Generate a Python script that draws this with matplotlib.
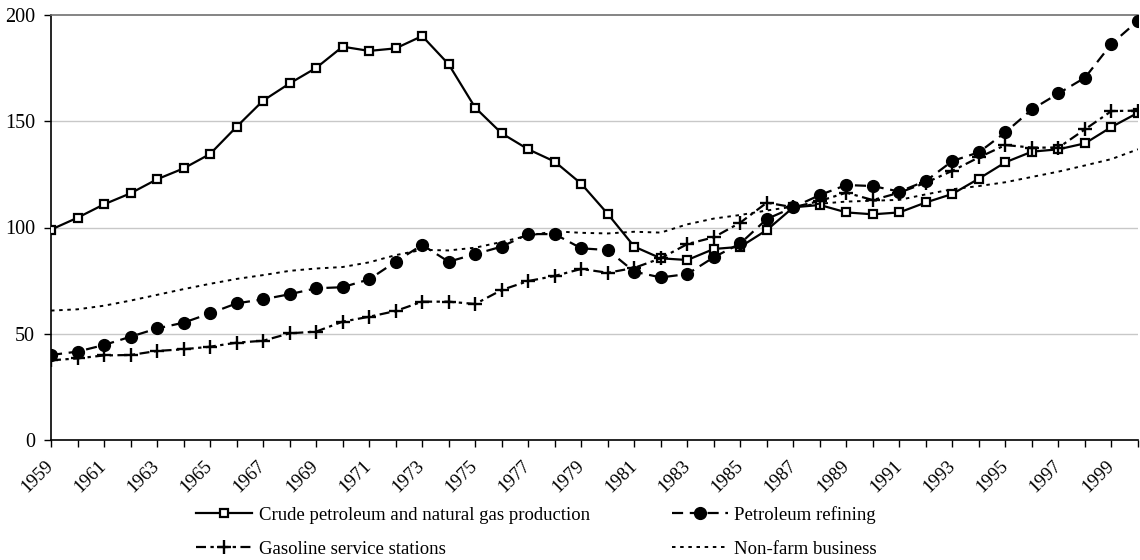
import matplotlib
matplotlib.use("Agg")
import matplotlib.pyplot as plt
from matplotlib.transforms import ScaledTranslation

years = list(range(1959, 2001))

crude_petroleum = [
    99.0, 104.6, 110.9, 116.1, 122.7, 127.8, 134.6, 147.4, 159.7, 167.8,
    175.1, 185.1, 183.1, 184.3, 190.1, 176.8, 156.4, 144.3, 136.8, 131.0,
    120.6, 106.4, 91.0, 85.5, 84.7, 89.9, 90.9, 98.8, 109.5, 110.6,
    107.1, 106.2, 107.1, 111.8, 115.8, 123.0, 130.7, 135.7, 136.8, 139.6,
    147.3, 154.0,
]

petroleum_refining = [
    40.0, 41.6, 44.7, 48.6, 52.5, 55.2, 59.6, 64.3, 66.2, 68.6,
    71.4, 71.9, 75.6, 83.9, 91.8, 83.9, 87.5, 91.0, 96.9, 96.9,
    90.2, 89.4, 79.2, 76.5, 78.1, 86.0, 92.5, 104.0, 109.5, 115.3,
    120.0, 119.5, 116.9, 121.9, 131.3, 135.4, 144.8, 155.6, 163.1, 170.5,
    186.4, 197.3,
]

gasoline_stations = [
    37.5, 38.4, 39.8, 40.0, 41.9, 42.7, 43.9, 45.8, 46.7, 50.2,
    51.0, 55.7, 58.0, 60.7, 65.1, 65.1, 64.0, 70.6, 74.8, 77.2,
    80.5, 78.7, 81.0, 85.5, 92.2, 95.4, 102.3, 111.7, 109.5, 112.5,
    116.4, 112.9, 116.4, 121.1, 126.7, 133.0, 138.8, 137.6, 137.6, 146.2,
    154.8, 155.0,
]

nonfarm_business = [
    60.9, 61.5, 63.2, 65.6, 68.3, 71.0, 73.5, 75.8, 77.6, 79.6,
    80.7, 81.4, 83.6, 87.0, 89.5, 89.2, 90.5, 93.2, 96.2, 98.2,
    97.5, 97.2, 98.0, 97.6, 101.5, 104.2, 105.9, 108.0, 109.8, 111.2,
    112.2, 112.6, 113.0, 115.6, 118.0, 119.5, 121.3, 123.8, 126.3, 129.2,
    132.2, 136.8,
]

series_labels = [
    "Crude petroleum and natural gas production",
    "Petroleum refining",
    "Gasoline service stations",
    "Non-farm business",
]

y_ticks = [0, 50, 100, 150, 200]
x_label_years = list(range(1959, 2000, 2))

plt.rcParams["font.family"] = ["Liberation Serif", "DejaVu Serif"]

fig = plt.figure(figsize=(11.4, 5.6), dpi=100)
ax = fig.add_axes([51 / 1140, 1 - 440 / 560, (1138 - 51) / 1140, (440 - 15) / 560])

lw = 1.6
h_crude, = ax.plot(years, crude_petroleum, color="black", lw=lw,
                   marker="s", markersize=6.4, markerfacecolor="white",
                   markeredgecolor="black", markeredgewidth=1.6, zorder=4,
                   label=series_labels[0])
h_ref, = ax.plot(years, petroleum_refining, color="black", lw=lw,
                 dashes=(5, 3), marker="o", markersize=8.5,
                 markerfacecolor="black", markeredgecolor="black", zorder=5,
                 label=series_labels[1])
h_gas, = ax.plot(years, gasoline_stations, color="black", lw=lw,
                 dashes=(4.5, 2, 1.5, 2), marker="+", markersize=10,
                 markeredgewidth=1.7, zorder=6, label=series_labels[2])
h_nf, = ax.plot(years, nonfarm_business, color="black", lw=1.4,
                dashes=(1.8, 2.4), zorder=7, label=series_labels[3])

ax.set_xlim(1959, 2000)
ax.set_ylim(0, 200)
ax.set_yticks(y_ticks)
ax.set_xticks(years)
ax.set_xticklabels([str(y) if y in x_label_years else "" for y in years],
                   rotation=45, ha="right", va="center", rotation_mode="anchor")

# nudge the slanted year labels so their ends sit under the ticks
shift = ScaledTranslation(-8 / 100, 0, fig.dpi_scale_trans)
for lab in ax.get_xticklabels():
    lab.set_transform(lab.get_transform() + shift)

for y in [50, 100, 150]:
    ax.axhline(y, color="#c8c8c8", lw=1.0, zorder=1)

ax.spines["right"].set_visible(False)
ax.spines["top"].set_color("#707070")
ax.spines["top"].set_linewidth(1.2)
ax.spines["left"].set_linewidth(1.2)
ax.spines["bottom"].set_linewidth(1.2)

ax.tick_params(axis="both", direction="out", length=5, width=1.0,
               labelsize=14.5, color="black")
ax.tick_params(axis="x", pad=12, labelsize=13.5)
ax.tick_params(axis="y", pad=6.5)

leg = fig.legend(handles=[h_crude, h_gas, h_ref, h_nf], ncol=2,
                 loc="upper left", bbox_to_anchor=(196 / 1140, 1 - 506 / 560),
                 frameon=False, fontsize=13.5, handlelength=3.0,
                 handletextpad=0.35, columnspacing=4.35, labelspacing=0.9,
                 borderpad=0, borderaxespad=0)

fig.savefig("out.png", dpi=100)
